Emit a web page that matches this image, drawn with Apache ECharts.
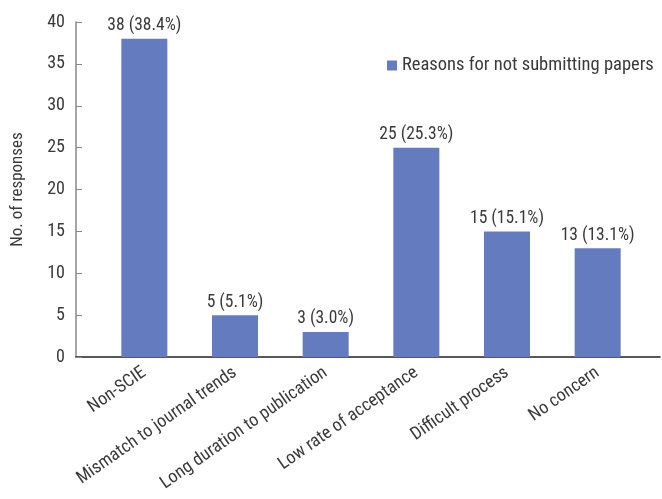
<!DOCTYPE html>
<html><head><meta charset="utf-8">
<script src="https://cdn.jsdelivr.net/npm/echarts@6/dist/echarts.min.js"></script>
<style>html,body{margin:0;padding:0;background:#fff}#c{width:662px;height:499px}</style>
</head><body><div id="c"></div>
<script>
const categories = ["Non-SCIE","Mismatch to journal trends","Long duration to publication","Low rate of acceptance","Difficult process","No concern"];
const counts = [38,5,3,25,15,13];
const percents = ["38.4%","5.1%","3.0%","25.3%","15.1%","13.1%"];
const seriesName = "Reasons for not submitting papers";
const yTicks = {min:0,max:40,interval:5};

const FONT = "'Roboto Condensed','Roboto',sans-serif";
const TXT = '#3a3a3a';
const chart = echarts.init(document.getElementById('c'));
chart.setOption({
  animation:false,
  textStyle:{fontFamily:FONT},
  legend:{
    data:[seriesName], left:382, top:51, itemWidth:10, itemHeight:10, itemGap:6,
    icon:'rect', textStyle:{fontFamily:FONT,fontSize:18.5,color:TXT}
  },
  grid:[
    {left:76,right:2,top:22,bottom:142},
    {left:99,right:19,top:22,bottom:142}
  ],
  xAxis:[
    {gridIndex:0,type:'category',data:[''],axisLine:{lineStyle:{color:'#222',width:1.5}},axisTick:{show:false},axisLabel:{show:false}},
    {gridIndex:1,type:'category',data:categories,axisLine:{show:false},axisTick:{show:false},
     axisLabel:{interval:0,rotate:35,fontFamily:FONT,fontSize:18,color:TXT,margin:14}}
  ],
  yAxis:[
    {gridIndex:0,type:'value',min:yTicks.min,max:yTicks.max,interval:yTicks.interval,
     name:'No. of responses',nameLocation:'middle',nameGap:50,nameRotate:90,
     nameTextStyle:{fontFamily:FONT,fontSize:17,color:TXT},
     axisLine:{show:true,lineStyle:{color:'#888',width:1.5}},
     axisTick:{show:true,inside:true,length:6,lineStyle:{color:'#888'}},
     axisLabel:{fontFamily:FONT,fontSize:18,color:TXT,margin:11},
     splitLine:{show:false}},
    {gridIndex:1,type:'value',min:yTicks.min,max:yTicks.max,interval:yTicks.interval,show:false,splitLine:{show:false}}
  ],
  series:[{
    name:seriesName,type:'bar',xAxisIndex:1,yAxisIndex:1,barWidth:46,
    data:counts,itemStyle:{color:'#647bbf'},
    label:{show:true,position:'top',distance:4,fontFamily:FONT,fontSize:17.5,color:TXT,
      formatter:p=>p.value+' ('+percents[p.dataIndex]+')'}
  }]
});
</script></body></html>
